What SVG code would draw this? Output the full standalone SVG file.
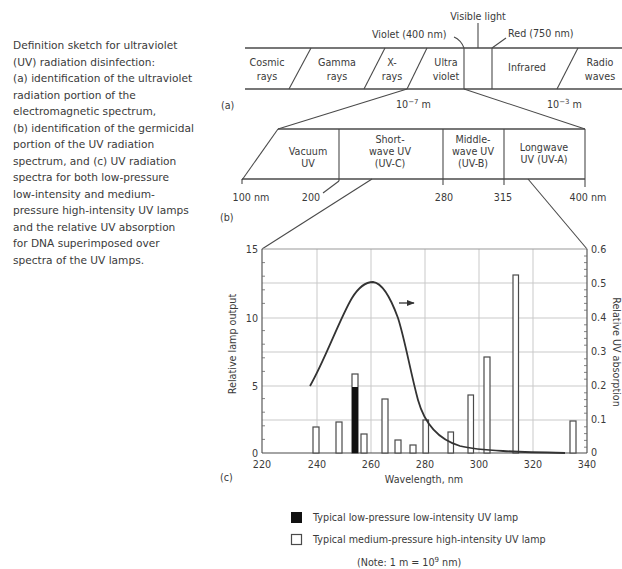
<svg xmlns="http://www.w3.org/2000/svg" width="622" height="569" viewBox="0 0 622 569">
<defs>
<style>
text{font-family:"DejaVu Sans","Liberation Sans",Arial,sans-serif;fill:#3a3a3a;font-size:9.6px}
.cap{font-size:10.6px}
.m{text-anchor:middle}
.e{text-anchor:end}
.rt{font-size:8.6px}
.ln{stroke:#4a4a4a;stroke-width:1.6;fill:none}
.thin{stroke:#4a4a4a;stroke-width:1.1;fill:none}
.grid{stroke:#c9c9c9;stroke-width:1;fill:none}
.bar{fill:#fff;stroke:#4a4a4a;stroke-width:1.2}
</style>
<marker id="ah" viewBox="0 0 10 10" refX="9" refY="5" markerWidth="6" markerHeight="6" orient="auto"><path d="M0,1 L10,5 L0,9 z" fill="#333"/></marker>
</defs>
<rect width="622" height="569" fill="#fff"/>

<g id="caption">
<text class="cap" x="13" y="49">Definition sketch for ultraviolet</text>
<text class="cap" x="13" y="65.5">(UV) radiation disinfection:</text>
<text class="cap" x="13" y="82">(a) identification of the ultraviolet</text>
<text class="cap" x="13" y="98.5">radiation portion of the</text>
<text class="cap" x="13" y="115">electromagnetic spectrum,</text>
<text class="cap" x="13" y="131.5">(b) identification of the germicidal</text>
<text class="cap" x="13" y="148">portion of the UV radiation</text>
<text class="cap" x="13" y="164.5">spectrum, and (c) UV radiation</text>
<text class="cap" x="13" y="181">spectra for both low-pressure</text>
<text class="cap" x="13" y="197.5">low-intensity and medium-</text>
<text class="cap" x="13" y="214">pressure high-intensity UV lamps</text>
<text class="cap" x="13" y="230.5">and the relative UV absorption</text>
<text class="cap" x="13" y="247">for DNA superimposed over</text>
<text class="cap" x="13" y="263.5">spectra of the UV lamps.</text>
</g>

<g id="spectrum-a">
<line class="ln" x1="245" y1="48" x2="622" y2="48"/>
<line class="ln" x1="245" y1="89" x2="622" y2="89"/>
<line class="thin" x1="311" y1="48" x2="289" y2="89"/>
<line class="thin" x1="385" y1="48" x2="364" y2="89"/>
<line class="thin" x1="427" y1="48" x2="407" y2="89"/>
<line class="thin" x1="464" y1="48" x2="464" y2="89"/>
<line class="thin" x1="492" y1="48" x2="492" y2="89"/>
<line class="thin" x1="578" y1="48" x2="557" y2="89"/>
<text class="m" x="267" y="66">Cosmic</text><text class="m" x="267" y="80">rays</text>
<text class="m" x="337" y="66">Gamma</text><text class="m" x="337" y="80">rays</text>
<text class="m" x="392" y="66">X-</text><text class="m" x="392" y="80">rays</text>
<text class="m" x="446" y="66">Ultra</text><text class="m" x="446" y="80">violet</text>
<text class="m" x="527" y="71">Infrared</text>
<text class="m" x="600" y="66">Radio</text><text class="m" x="600" y="80">waves</text>
<text x="478" y="20" class="m">Visible light</text>
<line class="thin" x1="478" y1="23" x2="478" y2="48"/>
<text x="372" y="38">Violet (400 nm)</text>
<path class="thin" d="M454,37 Q461,40 464,48"/>
<text x="508" y="37">Red (750 nm)</text>
<line class="thin" x1="506" y1="38" x2="492" y2="48"/>
<text x="221" y="109">(a)</text>
<text x="396" y="108">10<tspan font-size="7" dy="-4">−7</tspan><tspan dy="4"> m</tspan></text>
<text x="547" y="108">10<tspan font-size="7" dy="-4">−3</tspan><tspan dy="4"> m</tspan></text>
</g>

<g id="spectrum-b">
<line class="ln" x1="278" y1="129" x2="585" y2="129"/>
<line class="ln" x1="242" y1="179" x2="585" y2="179"/>
<line class="thin" x1="278" y1="129" x2="242" y2="180"/>
<line class="thin" x1="242" y1="179" x2="242" y2="184"/>
<line class="thin" x1="339" y1="129" x2="339" y2="181"/>
<line class="thin" x1="443" y1="129" x2="443" y2="185"/>
<line class="thin" x1="504" y1="129" x2="504" y2="185"/>
<line class="thin" x1="585" y1="129" x2="585" y2="187"/>
<line class="thin" x1="339" y1="181" x2="323" y2="193"/>
<text class="m" x="308" y="155">Vacuum</text><text class="m" x="308" y="167">UV</text>
<text class="m" x="390" y="143">Short-</text><text class="m" x="390" y="155">wave UV</text><text class="m" x="390" y="167">(UV-C)</text>
<text class="m" x="473" y="143">Middle-</text><text class="m" x="473" y="155">wave UV</text><text class="m" x="473" y="167">(UV-B)</text>
<text class="m" x="544" y="151">Longwave</text><text class="m" x="544" y="163">UV (UV-A)</text>
<text class="m" x="251" y="201">100 nm</text>
<text class="m" x="311" y="201">200</text>
<text class="m" x="444" y="201">280</text>
<text class="m" x="503" y="201">315</text>
<text class="m" x="588" y="201">400 nm</text>
<text x="220" y="221">(b)</text>
</g>

<g id="connectors">
<line class="thin" x1="407" y1="89" x2="278" y2="129"/>
<line class="thin" x1="464" y1="89" x2="585" y2="129"/>
<line class="thin" x1="372" y1="179" x2="262" y2="249"/>
<line class="thin" x1="528" y1="179" x2="587" y2="249"/>
</g>

<g id="chart">
<g class="grid">
<line x1="262" y1="283" x2="587" y2="283"/>
<line x1="262" y1="318" x2="587" y2="318"/>
<line x1="262" y1="352" x2="587" y2="352"/>
<line x1="262" y1="386" x2="587" y2="386"/>
<line x1="262" y1="420" x2="587" y2="420"/>
<line x1="317" y1="249" x2="317" y2="453"/>
<line x1="371" y1="249" x2="371" y2="453"/>
<line x1="425" y1="249" x2="425" y2="453"/>
<line x1="479" y1="249" x2="479" y2="453"/>
<line x1="533" y1="249" x2="533" y2="453"/>
</g>
<line x1="262" y1="249" x2="587" y2="249" stroke="#9a9a9a" stroke-width="1.2"/>
<line class="thin" x1="262" y1="249" x2="262" y2="453"/>
<line class="thin" x1="587" y1="249" x2="587" y2="453"/>
<line class="thin" x1="262" y1="453" x2="587" y2="453"/>
<path stroke="#666" stroke-width="0.8" d="M262,262.6h3M262,276.2h3M262,289.8h3M262,303.4h3M262,330.6h3M262,344.2h3M262,357.8h3M262,371.4h3M262,398.6h3M262,412.2h3M262,425.8h3M262,439.4h3M587,256h-3M587,262.6h-3M587,269.4h-3M587,276.2h-3M587,289.8h-3M587,296.6h-3M587,303.4h-3M587,310.2h-3M587,324.8h-3M587,331.6h-3M587,338.4h-3M587,345.2h-3M587,358.8h-3M587,365.6h-3M587,372.4h-3M587,379.2h-3M587,392.8h-3M587,399.6h-3M587,406.4h-3M587,413.2h-3M587,426.8h-3M587,433.6h-3M587,440.4h-3M587,447.2h-3"/>
<g class="e">
<text x="258" y="253">15</text>
<text x="258" y="322">10</text>
<text x="258" y="390">5</text>
<text x="258" y="457">0</text>
</g>
<g class="rt">
<text x="591" y="253">0.6</text>
<text x="591" y="287">0.5</text>
<text x="591" y="321">0.4</text>
<text x="591" y="355">0.3</text>
<text x="591" y="389">0.2</text>
<text x="591" y="423">0.1</text>
<text x="591" y="456">0</text>
</g>
<g class="m">
<text x="262" y="468">220</text>
<text x="317" y="468">240</text>
<text x="371" y="468">260</text>
<text x="425" y="468">280</text>
<text x="479" y="468">300</text>
<text x="533" y="468">320</text>
<text x="587" y="468">340</text>
</g>
<text class="m" x="424" y="483">Wavelength, nm</text>
<text x="220" y="481">(c)</text>
<text class="m" transform="translate(236,344) rotate(-90)">Relative lamp output</text>
<text class="m" transform="translate(612.5,352) rotate(90)" font-size="8.5">Relative UV absorption</text>

<g id="bars">
<rect class="bar" x="313" y="427" width="6" height="26"/>
<rect class="bar" x="336" y="422" width="6" height="31"/>
<rect class="bar" x="352" y="374" width="6" height="79"/>
<rect x="352" y="387" width="6" height="66" fill="#111"/>
<rect class="bar" x="361" y="434" width="6" height="19"/>
<rect class="bar" x="382" y="399" width="6" height="54"/>
<rect class="bar" x="395" y="440" width="6" height="13"/>
<rect class="bar" x="410" y="445" width="6" height="8"/>
<rect class="bar" x="423" y="420" width="5.5" height="33"/>
<rect class="bar" x="448" y="432" width="5.5" height="21"/>
<rect class="bar" x="468" y="395" width="5.5" height="58"/>
<rect class="bar" x="484" y="357" width="6" height="96"/>
<rect class="bar" x="513" y="275" width="5.5" height="178"/>
<rect class="bar" x="570" y="421" width="6" height="32"/>
</g>
<path d="M310,386 C325,360 340,318 352,298 C360,285 367,282 373,282 C382,283 390,296 398,318 C405,340 410,370 418,400 C425,425 440,440 460,446 C480,451 520,452 565,453" fill="none" stroke="#333" stroke-width="1.8"/>
<line x1="399" y1="303" x2="414" y2="303" stroke="#333" stroke-width="1.3" marker-end="url(#ah)"/>
</g>

<g id="legend">
<rect x="291" y="512" width="11" height="11" fill="#111"/>
<text x="313" y="521">Typical low-pressure low-intensity UV lamp</text>
<rect x="291.5" y="534.5" width="10" height="10" fill="#fff" stroke="#4a4a4a" stroke-width="1.2"/>
<text x="313" y="543">Typical medium-pressure high-intensity UV lamp</text>
<text x="357" y="566">(Note: 1 m = 10<tspan font-size="7" dy="-4">9</tspan><tspan dy="4"> nm)</tspan></text>
</g>
</svg>
